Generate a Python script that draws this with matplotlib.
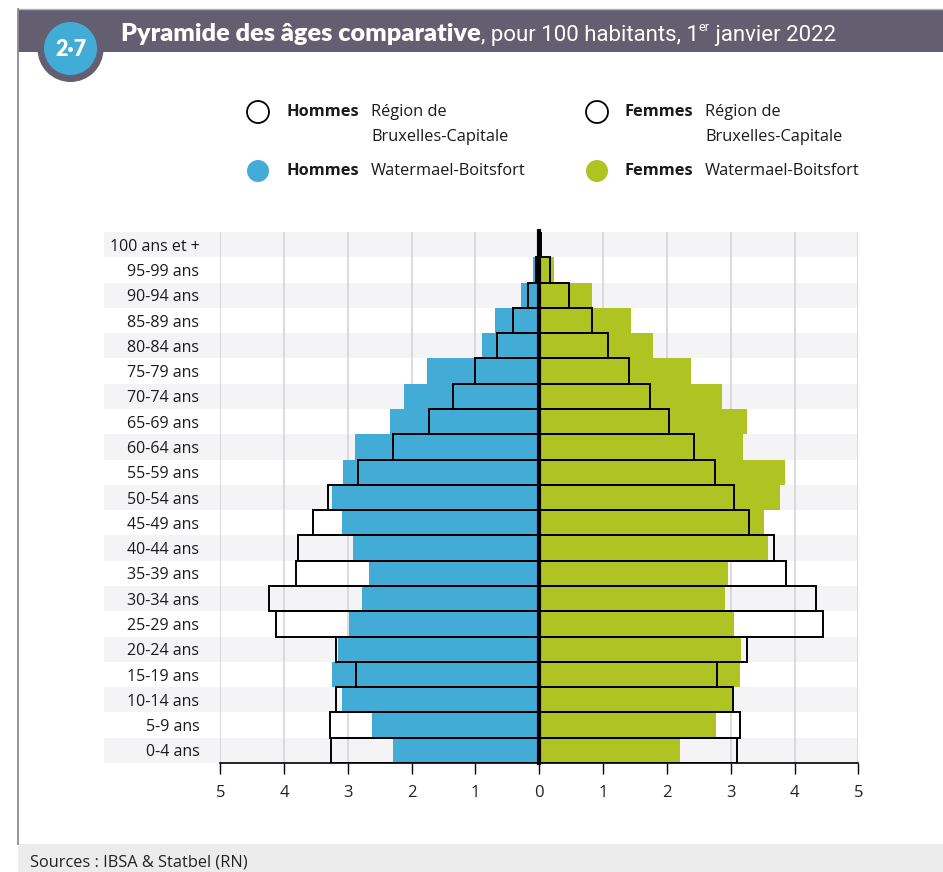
import matplotlib
matplotlib.use('Agg')
from matplotlib import pyplot as plt
from matplotlib.patches import Circle, Rectangle
import numpy as np

plt.rcParams['font.family'] = ['Open Sans', 'DejaVu Sans']

# age groups, bottom to top
ages = ['0-4 ans', '5-9 ans', '10-14 ans', '15-19 ans', '20-24 ans', '25-29 ans',
        '30-34 ans', '35-39 ans', '40-44 ans', '45-49 ans', '50-54 ans', '55-59 ans',
        '60-64 ans', '65-69 ans', '70-74 ans', '75-79 ans', '80-84 ans', '85-89 ans',
        '90-94 ans', '95-99 ans', '100 ans et +']

# pour 100 habitants
hommes_wb = [2.29, 2.62, 3.09, 3.25, 3.15, 2.98, 2.78, 2.67, 2.92, 3.09, 3.25,
             3.07, 2.89, 2.34, 2.12, 1.76, 0.90, 0.69, 0.29, 0.10, 0.02]
hommes_bxl = [3.26, 3.28, 3.18, 2.88, 3.18, 4.12, 4.24, 3.82, 3.78, 3.55, 3.31,
              2.84, 2.29, 1.73, 1.35, 1.00, 0.66, 0.42, 0.18, 0.05, 0.01]
femmes_wb = [2.21, 2.77, 3.03, 3.14, 3.16, 3.05, 2.91, 2.96, 3.58, 3.52, 3.77,
             3.85, 3.19, 3.25, 2.87, 2.38, 1.78, 1.44, 0.82, 0.23, 0.03]
femmes_bxl = [3.10, 3.14, 3.04, 2.78, 3.25, 4.45, 4.34, 3.87, 3.68, 3.29, 3.05,
              2.76, 2.43, 2.04, 1.74, 1.41, 1.07, 0.82, 0.47, 0.16, 0.02]

xticks = [-5, -4, -3, -2, -1, 0, 1, 2, 3, 4, 5]

BLUE = '#43acd6'
GREEN = '#afc423'
HEAD = '#635e70'
STRIPE = '#f4f4f6'

W, H = 943, 872
fig = plt.figure(figsize=(W / 100, H / 100), dpi=100)

# overlay axes in pixel coords for header, legend, footer
ov = fig.add_axes([0, 0, 1, 1], zorder=0)
ov.set_xlim(0, W)
ov.set_ylim(H, 0)
ov.axis('off')

ov.add_patch(Rectangle((18, 9), W - 18, 43, facecolor=HEAD, edgecolor='none'))
ov.plot([18, W], [9, 9], color='#b5b2bd', lw=1)
ov.plot([18, 18], [9, 844], color='#8e8a98', lw=1.3)
ov.add_patch(Rectangle((18, 844), W - 18, 28, facecolor='#ececec', edgecolor='none'))
ov.add_patch(Circle((70.5, 49), 33, facecolor=HEAD, edgecolor='none'))
ov.add_patch(Circle((70.5, 48.5), 26.5, facecolor=BLUE, edgecolor='none'))
ov.text(70.5, 50, '2·7', color='white', fontsize=15.5, fontweight='heavy',
        ha='center', va='center', family=['Lato', 'DejaVu Sans'])

fig.canvas.draw()
r = fig.canvas.get_renderer()
inv = ov.transData.inverted()


def put(x, y, s, **kw):
    t = ov.text(x, y, s, **kw)
    bb = t.get_window_extent(renderer=r)
    return inv.transform((bb.x1, bb.y0))[0]


x = put(121, 41, 'Pyramide des âges comparative', color='white', fontsize=18.2,
        fontweight='heavy', va='baseline', family=['Lato', 'DejaVu Sans'])
x = put(x, 41, ', pour 100 habitants, 1', color='white', fontsize=16,
        va='baseline', family=['Roboto', 'DejaVu Sans'])
x = put(x, 31, 'er', color='white', fontsize=9, va='baseline',
        family=['Roboto', 'DejaVu Sans'])
put(x, 41, ' janvier 2022', color='white', fontsize=16, va='baseline',
    family=['Roboto', 'DejaVu Sans'])

# legend
leg = [(258, 112, 'white', 'Hommes', ['Région de', 'Bruxelles-Capitale'], 286, 371),
       (258, 171, BLUE, 'Hommes', ['Watermael-Boitsfort'], 286, 371),
       (597, 112, 'white', 'Femmes', ['Région de', 'Bruxelles-Capitale'], 625, 705),
       (597, 171, GREEN, 'Femmes', ['Watermael-Boitsfort'], 625, 705)]
for cx, cy, fc, b, lines, xb, xs in leg:
    ec = 'black' if fc == 'white' else 'none'
    ov.add_patch(Circle((cx, cy), 11, facecolor=fc, edgecolor=ec, lw=1.3))
    ov.text(xb, cy, b, fontsize=11.8, fontweight='bold', va='center', color='#1a1a1a')
    for k, s in enumerate(lines):
        ov.text(xs, cy + 25 * k, s, fontsize=11.8, va='center', color='#1a1a1a')

ov.text(30, 862, 'Sources : IBSA & Statbel (RN)', fontsize=11.8, va='center', color='#222222')

# main chart
ax = fig.add_axes([220.3 / W, 1 - 763 / H, 638 / W, 531 / H], zorder=2)
ax.patch.set_alpha(0)
y = np.arange(len(ages))
for i in y:
    if (len(ages) - 1 - i) % 2 == 0:
        ax.axhspan(i - 0.5, i + 0.5, xmin=-0.182, xmax=1, color=STRIPE, lw=0,
                   zorder=0, clip_on=False)
for v in xticks:
    if v != 0:
        ax.axvline(v, color='#d2d2d2', lw=1.1, zorder=1)

ax.barh(y, -np.array(hommes_wb), height=1.0, color=BLUE, lw=0, zorder=2)
ax.barh(y, femmes_wb, height=1.0, color=GREEN, lw=0, zorder=2)
ax.barh(y, -np.array(hommes_bxl), height=1.0, facecolor='none', edgecolor='black',
        lw=1.4, zorder=3)
ax.barh(y, femmes_bxl, height=1.0, facecolor='none', edgecolor='black',
        lw=1.4, zorder=3)
ax.axvline(0, color='black', lw=3, zorder=4, ymax=1.002, clip_on=False)

ax.set_xlim(-5, 5)
ax.set_ylim(-0.5, len(ages) - 0.5)
ax.set_xticks(xticks)
ax.set_xticklabels([str(abs(v)) for v in xticks], fontsize=12, color='#222222')
ax.set_yticks(y)
ax.set_yticklabels(ages, fontsize=11.5, color='#1a1a1a')
ax.tick_params(axis='y', length=0, pad=15)
ax.tick_params(axis='x', length=8, width=1, pad=8, direction='out')
for s in ['left', 'right', 'top']:
    ax.spines[s].set_visible(False)
ax.spines['bottom'].set_linewidth(1.2)

fig.savefig('out.png', dpi=100)
